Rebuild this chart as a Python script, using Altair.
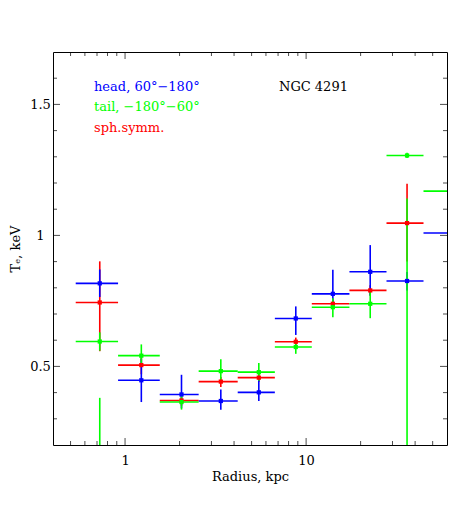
import altair as alt
import pandas as pd

# ---- data ----
r_center = [0.725, 1.23, 2.05, 3.38, 5.48, 8.77, 14.05, 22.6, 36.1, 62.0]
r_low = [0.534, 0.915, 1.555, 2.55, 4.19, 6.72, 10.75, 17.35, 27.8, 44.5]
r_high = [0.915, 1.555, 2.55, 4.19, 6.72, 10.75, 17.35, 27.8, 44.5, 80.0]

head_T = [0.817, 0.447, 0.393, 0.368, 0.401, 0.683, 0.777, 0.861, 0.826, 1.009]
head_lo = [0.765, 0.364, 0.340, 0.335, 0.368, 0.620, 0.740, 0.770, 0.790, 0.950]
head_hi = [0.870, 0.530, 0.468, 0.412, 0.449, 0.729, 0.869, 0.963, 0.860, 1.070]

tail_T = [0.595, 0.541, 0.364, 0.482, 0.478, 0.574, 0.726, 0.739, 1.305, 1.169]
tail_lo = [0.560, 0.500, 0.335, 0.440, 0.445, 0.548, 0.688, 0.684, 1.295, 1.100]
tail_hi = [0.630, 0.584, 0.390, 0.527, 0.513, 0.600, 0.760, 0.790, 1.315, 1.240]

# tail points lying below the plotted range (only their upper error bars show)
tail_low_idx = [0, 8]
tail_low_T = [0.10, 0.10]
tail_low_lo = [0.00, 0.00]
tail_low_hi = [0.380, 1.141]

sph_T = [0.744, 0.505, 0.370, 0.442, 0.457, 0.594, 0.739, 0.790, 1.047]
sph_lo = [0.558, 0.470, 0.350, 0.421, 0.440, 0.580, 0.720, 0.770, 0.900]
sph_hi = [0.901, 0.540, 0.390, 0.460, 0.475, 0.610, 0.755, 0.810, 1.197]

legend_labels = ["head, 60°\u2212180°", "tail, \u2212180°\u221260°", "sph.symm."]
legend_colors = ["#0000ff", "#00ff00", "#ff0000"]
object_name = "NGC 4291"

x_major = [1, 10]
x_minor = [0.5, 0.6, 0.7, 0.8, 0.9, 2, 3, 4, 5, 6, 7, 8, 9, 20, 30, 40, 50]
y_major = [0.5, 1.0, 1.5]
y_minor = [0.3, 0.4, 0.6, 0.7, 0.8, 0.9, 1.1, 1.2, 1.3, 1.4, 1.6]

# ---- build table ----
rows = []
for i, t in enumerate(sph_T):
    rows.append(dict(series="sph", r=r_center[i], rlo=r_low[i], rhi=r_high[i], T=t, lo=sph_lo[i], hi=sph_hi[i]))
for i, t in enumerate(head_T):
    rows.append(dict(series="head", r=r_center[i], rlo=r_low[i], rhi=r_high[i], T=t, lo=head_lo[i], hi=head_hi[i]))
for i, t in enumerate(tail_T):
    rows.append(dict(series="tail", r=r_center[i], rlo=r_low[i], rhi=r_high[i], T=t, lo=tail_lo[i], hi=tail_hi[i]))
for k, i in enumerate(tail_low_idx):
    rows.append(dict(series="tail", r=r_center[i], rlo=r_low[i], rhi=r_high[i], T=tail_low_T[k], lo=tail_low_lo[k], hi=tail_low_hi[k]))
df = pd.DataFrame(rows)

W, H = 394, 393
FONT = "DejaVu Serif"

xscale = alt.Scale(type="log", domain=[0.4, 60], nice=False)
yscale = alt.Scale(domain=[0.2, 1.7], nice=False, zero=False)

xaxis = alt.Axis(values=x_major, format="~g", ticks=False, domain=False, grid=False,
                 labelFont=FONT, labelFontSize=13, labelColor="black", labelPadding=9,
                 title="Radius, kpc", titleFont=FONT, titleFontSize=13, titleFontWeight="normal",
                 titleColor="black", titleX=W / 2, titleY=35, titleBaseline="alphabetic")
yaxis = alt.Axis(values=y_major, format="~g", ticks=False, domain=False, grid=False,
                 labelFont=FONT, labelFontSize=13, labelColor="black", labelPadding=13,
                 labelAlign="center", labelBaseline="middle",
                 title="T\u2091, keV", titleFont=FONT, titleFontSize=13, titleFontWeight="normal",
                 titleColor="black", titleX=-34, titleY=H / 2, titleAngle=270,
                 titleBaseline="alphabetic", titleAlign="center")


def X(f):
    return alt.X(f, type="quantitative", scale=xscale, axis=xaxis)


def Y(f):
    return alt.Y(f, type="quantitative", scale=yscale, axis=yaxis)


color = alt.Color("series:N", scale=alt.Scale(domain=["head", "tail", "sph"], range=legend_colors), legend=None)

base = alt.Chart(df)
vbars = base.mark_rule(clip=True, strokeWidth=1.6).encode(x=X("r"), y=Y("lo"), y2="hi", color=color)
hbars = base.mark_rule(clip=True, strokeWidth=1.6).encode(x=X("rlo"), x2="rhi", y=Y("T"), color=color)
pts = base.mark_square(clip=True, size=18, opacity=1).encode(x=X("r"), y=Y("T"), color=color)

def xticks(vals, size, ypix):
    return alt.Chart(pd.DataFrame({"v": vals})).mark_tick(
        clip=True, size=size, thickness=1, color="black", orient="vertical"
    ).encode(x=X("v"), y=alt.value(ypix))


def yticks(vals, size, xpix):
    return alt.Chart(pd.DataFrame({"v": vals})).mark_tick(
        clip=True, size=size, thickness=1, color="black", orient="horizontal"
    ).encode(y=Y("v"), x=alt.value(xpix))


ticks = [
    xticks(x_major, 14, H), xticks(x_major, 14, 0),
    xticks(x_minor, 8, H), xticks(x_minor, 8, 0),
    yticks(y_major, 14, 0), yticks(y_major, 14, W),
    yticks(y_minor, 8, 0), yticks(y_minor, 8, W),
]

texts = []
for i, (lab, col) in enumerate(zip(legend_labels, legend_colors)):
    texts.append(
        alt.Chart(pd.DataFrame({"t": [lab]})).mark_text(
            font=FONT, fontSize=13, color=col, align="left", baseline="alphabetic"
        ).encode(text="t:N", x=alt.value(41), y=alt.value(39 + 20.3 * i))
    )
texts.append(
    alt.Chart(pd.DataFrame({"t": [object_name]})).mark_text(
        font=FONT, fontSize=13, color="black", align="left", baseline="alphabetic"
    ).encode(text="t:N", x=alt.value(226), y=alt.value(39))
)

chart = alt.layer(hbars, vbars, pts, *ticks, *texts).properties(
    width=W, height=H,
    autosize=alt.AutoSizeParams(type="none"),
    padding={"left": 45, "top": 44, "right": 8, "bottom": 50},
    background="white",
).configure_view(stroke="black", strokeWidth=1)

chart.save("out.html", embed_options={"renderer": "svg", "actions": False})
